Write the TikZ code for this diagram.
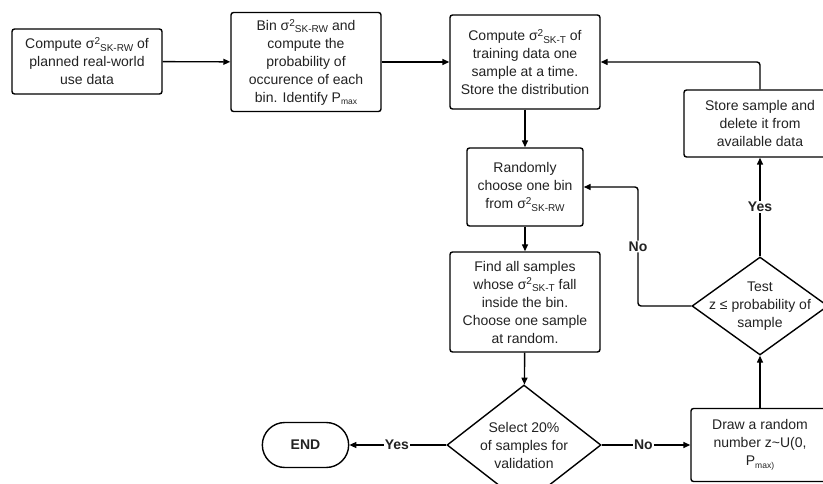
\documentclass[tikz,border=0pt]{standalone}
\usepackage{fontspec}
\setmainfont{Liberation Sans}
\usetikzlibrary{arrows.meta,shapes.geometric,shapes.misc}
% sigma squared with a subscript, and P_max
\newcommand\sqtwo{\raisebox{0.55ex}{\fontsize{10}{10}\selectfont 2}}
\newcommand\lowtxt[1]{\raisebox{-0.35ex}{\fontsize{10}{10}\selectfont #1}}
\newcommand\sigsq[1]{σ\sqtwo\lowtxt{#1}}
\newcommand\pmx[1]{P\raisebox{-0.35ex}{\fontsize{8.5}{8.5}\selectfont #1}}
\definecolor{ink}{HTML}{222222}
\begin{document}
\begin{tikzpicture}[x=1pt,y=-1pt,line width=1.4pt,
  font=\fontsize{14}{18}\selectfont, text=ink,
  box/.style={draw, rounded corners=2.5pt, align=center, inner sep=0pt},
  dia/.style={draw, diamond, inner sep=0pt},
  txt/.style={align=center, inner sep=0pt},
  flow/.style={-{Triangle[length=7pt,width=6pt]}},
  lbl/.style={fill=white, inner sep=1pt, font=\fontsize{14}{16}\bfseries}]
\useasboundingbox (0,0) rectangle (823,484);
\clip (0,0) rectangle (823,484);

\node[box, minimum width=150pt, minimum height=65pt] (A) at (87,61.5)
  {Compute \sigsq{SK-RW} of\\planned real-world\\use data};
\node[box, minimum width=150pt, minimum height=99pt] (B) at (306,62)
  {Bin \sigsq{SK-RW} and\\compute the\\probability of\\occurence of each\\bin. Identify \pmx{max}};
\node[box, minimum width=150pt, minimum height=94pt] (C) at (525,62)
  {Compute \sigsq{SK-T} of\\training data one\\sample at a time.\\Store the distribution};
\node[box, minimum width=152pt, minimum height=67pt] (S) at (760,123.5)
  {Store sample and\\delete it from\\available data};
\node[box, minimum width=116pt, minimum height=78pt] (D) at (525,187)
  {Randomly\\choose one bin\\from \sigsq{SK-RW}};
\node[box, minimum width=150pt, minimum height=100pt] (E) at (525,302)
  {Find all samples\\whose \sigsq{SK-T} fall\\inside the bin.\\Choose one sample\\at random.};
\node[dia, minimum width=154pt, minimum height=120pt] (F) at (524,445) {};
\node[txt] at (F) {Select 20\%\\of samples for\\validation};
\node[draw, rounded rectangle, minimum width=93pt, minimum height=45pt,
  font=\fontsize{14}{16}\bfseries] (END) at (305.5,445) {END};
\node[box, minimum width=138pt, minimum height=73pt] (G) at (760,445)
  {Draw a random\\number z\textasciitilde U(0,\\\pmx{max)}};
\node[dia, minimum width=136pt, minimum height=98pt] (H) at (760,306) {};
\node[txt] at (H) {Test\\z ≤ probability of\\sample};

\coordinate (sk) at (760,62);
\coordinate (nk) at (638,187);

\draw[flow] (A) -- (B);
\draw[flow] (B) -- (C);
\draw[flow] (C) -- (D);
\draw[flow] (D) -- (E);
\draw[flow] (E) -- (F);
\draw[flow] (F.west) -- node[lbl, pos=0.51] {Yes} (END.east);
\draw[flow] (F.east) -- node[lbl, pos=0.47] {No} (G.west);
\draw[flow] (G) -- (H);
\draw[flow] (H.north) -- node[lbl] {Yes} (S.south);
\draw[flow, rounded corners=3pt] (S.north) -- (sk) -- (C.east);
\draw[flow, rounded corners=3pt] (H.west) -| node[lbl, pos=0.75] {No} (nk) -- (D.east);
\end{tikzpicture}
\end{document}
